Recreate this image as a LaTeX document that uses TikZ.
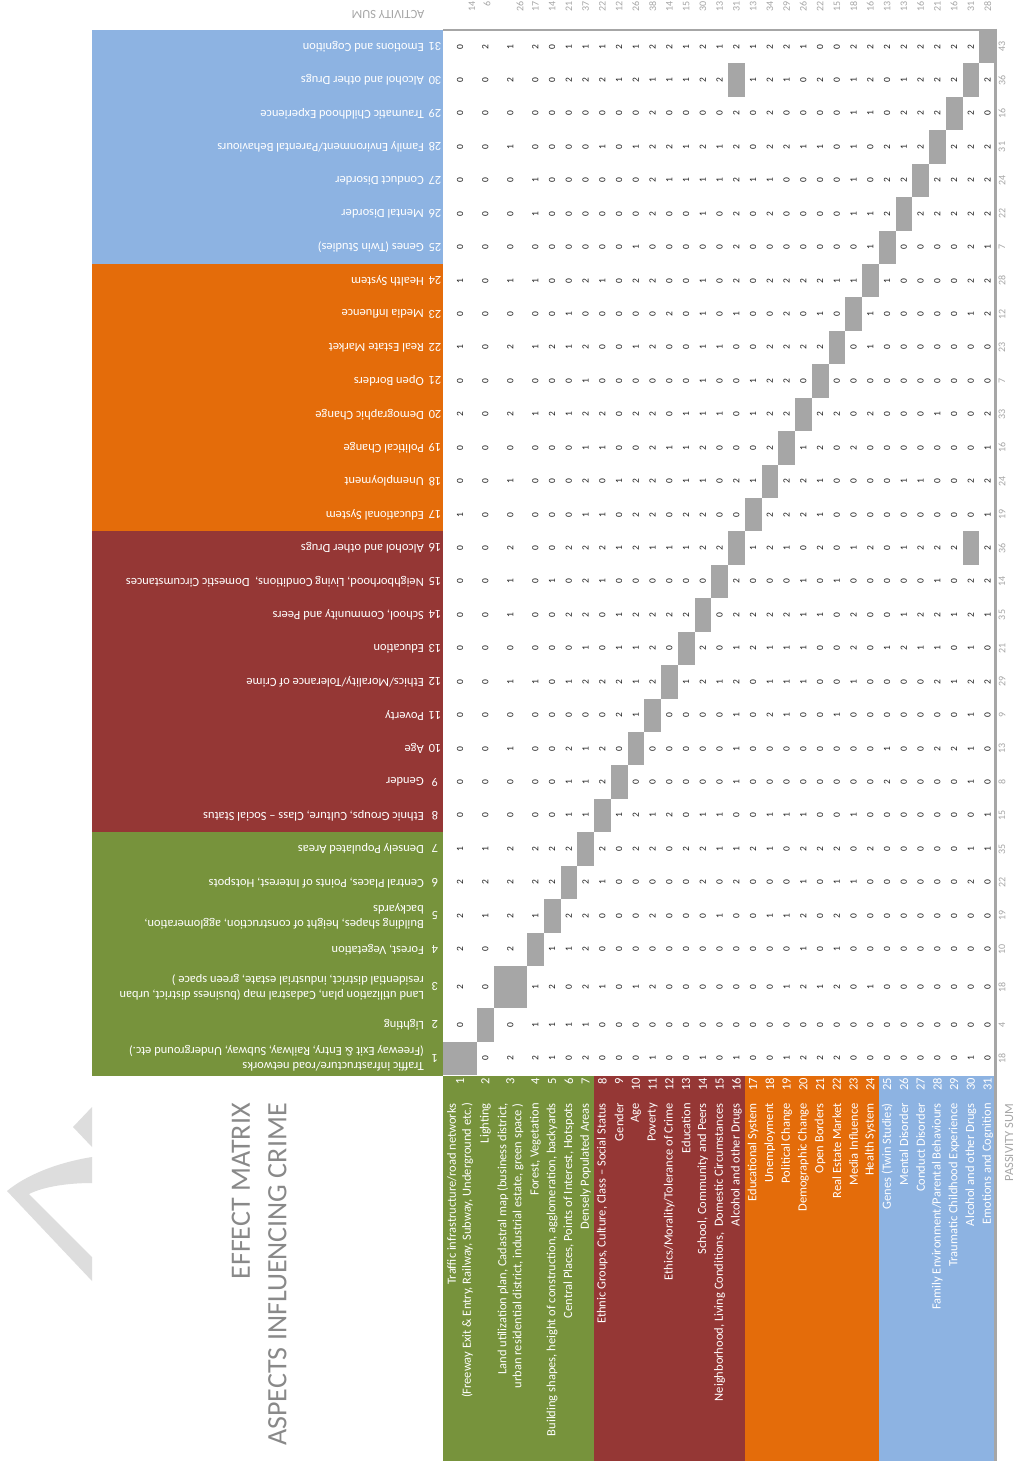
\documentclass[tikz,border=0pt]{standalone}
\usepackage{fontspec}
\setmainfont{Carlito}
\definecolor{grn}{HTML}{77933C}
\definecolor{dred}{HTML}{953735}
\definecolor{orng}{HTML}{E46C0A}
\definecolor{lblue}{HTML}{8DB3E2}
\definecolor{cellgray}{HTML}{A6A6A6}
\definecolor{sumgray}{HTML}{A6A6A6}
\definecolor{titlegray}{HTML}{898989}
\definecolor{wmgray}{HTML}{DDDDDD}
\definecolor{digitc}{HTML}{202020}
\begin{document}
\begin{tikzpicture}[x=1pt,y=-1pt,
  declare function={
    cl(\xx)=(\xx==1)*443+(\xx==2)*477+(\xx==3)*493.5+(\xx>3)*(527+(\xx-4)*16.75);
    cr(\xx)=(\xx==1)*477+(\xx==2)*493.5+(\xx==3)*527+(\xx>3)*(527+(\xx-3)*16.75);
    cx(\xx)=(cl(\xx)+cr(\xx))/2;
    rt(\yy)=(\yy==1)*1042+(\yy==2)*1008+(\yy==3)*966+(\yy>3)*(966-(\yy-3)*33.43);
    rb(\yy)=(\yy==1)*1075+(\yy==2)*1042+(\yy==3)*1008+(\yy>3)*(966-(\yy-4)*33.43);
    ry(\yy)=(rt(\yy)+rb(\yy))/2;
    ax(\xx)=(\xx==1)*472+(\xx==2)*487+(\xx==3)*520+(\xx>3)*cx(\xx);
  },
  dig/.style={rotate=90, inner sep=0pt, text=digitc, font=\fontsize{9.5}{11}\selectfont},
  sumnum/.style={rotate=90, inner sep=0pt, text=sumgray, font=\fontsize{10}{12}\selectfont},
  botlab/.style={rotate=90, anchor=east, align=right, inner sep=0pt, text=white, font=\fontsize{12.5}{15}\selectfont},
  leftlab/.style={rotate=180, anchor=west, align=left, inner sep=0pt, text=white, font=\fontsize{12.5}{15}\selectfont},
  bandnum/.style={rotate=90, anchor=east, inner sep=0pt, text=white, font=\fontsize{12.5}{15}\selectfont},
  leftnum/.style={rotate=180, inner sep=0pt, text=white, font=\fontsize{12.5}{15}\selectfont},
  sumlabel/.style={inner sep=0pt, text=sumgray, font=\fontsize{12.5}{15}\selectfont},
  titletext/.style={rotate=90, anchor=east, inner sep=0pt, text=titlegray, font=\fontsize{28}{32}\selectfont}
]
\useasboundingbox (0,0) rectangle (1017,1461);
\fill[white] (0,0) rectangle (1017,1461);

% watermark fragment
\fill[wmgray] (92,1157) .. controls (55,1163) and (25,1176) .. (7,1191) -- (92,1281) -- (92,1257) -- (29,1194) .. controls (45,1186) and (70,1183) .. (92,1183) -- cycle;
\fill[wmgray] (92,1107) -- (73,1127) -- (92,1147) -- cycle;

% left bands
\fill[lblue] (92,30) rectangle (443,264);
\fill[orng] (92,264) rectangle (443,531.4);
\fill[dred] (92,531.4) rectangle (443,832.3);
\fill[grn] (92,832.3) rectangle (443,1076);

% bottom bands
\fill[grn] (443,1076) rectangle (594,1461);
\fill[dred] (594,1076) rectangle (744.75,1461);
\fill[orng] (744.75,1076) rectangle (878.75,1461);
\fill[lblue] (878.75,1076) rectangle (996,1461);

% matrix
\foreach \rr/\vals in {
 1/{9,0,2,2,1,0,2,0,0,0,1,0,0,1,0,1,0,0,1,2,2,2,0,0,0,0,0,0,0,1,0},
 2/{0,9,0,1,1,1,1,0,0,0,0,0,0,0,0,0,0,0,0,0,0,0,0,0,0,0,0,0,0,0,0},
 3/{2,0,9,1,2,0,2,1,0,1,2,0,0,0,0,0,0,0,1,2,1,2,0,1,0,0,0,0,0,0,0},
 4/{2,0,2,9,1,1,2,0,0,0,0,0,0,0,0,0,0,0,0,1,0,1,0,0,0,0,0,0,0,0,0},
 5/{2,1,2,1,9,2,2,0,0,0,2,0,0,0,1,0,0,1,1,2,0,2,0,0,0,0,0,0,0,0,0},
 6/{2,2,2,2,2,9,2,1,0,0,0,0,0,2,0,2,0,0,0,1,0,1,1,0,0,0,0,0,0,2,0},
 7/{1,1,2,2,2,2,9,2,0,2,2,0,2,2,1,1,2,1,0,2,2,2,0,2,0,0,0,0,0,1,1},
 8/{0,0,0,0,0,1,1,9,1,2,1,2,0,1,1,0,0,1,1,1,0,0,1,0,0,0,0,0,0,0,1},
 9/{0,0,0,0,0,1,1,2,9,0,0,0,0,0,0,1,0,0,0,0,0,0,0,0,2,0,0,0,0,1,0},
 10/{0,0,1,0,0,2,1,2,0,9,0,0,0,0,0,1,0,0,0,0,0,0,0,0,1,0,0,2,2,1,0},
 11/{0,0,0,0,0,0,0,0,2,1,9,0,0,0,0,1,0,2,1,0,0,1,0,0,0,0,0,0,0,1,0},
 12/{0,0,1,1,0,1,2,2,2,1,2,9,1,2,1,2,0,1,1,1,0,0,1,0,0,0,0,2,1,2,2},
 13/{0,0,0,0,0,0,1,0,1,1,2,0,9,2,0,1,2,1,1,1,0,0,2,0,1,2,1,1,0,1,0},
 14/{0,0,1,0,0,2,2,0,1,2,2,2,2,9,0,2,2,2,2,1,1,0,2,0,0,1,2,2,1,2,1},
 15/{0,0,1,0,1,0,2,1,0,0,0,0,0,0,9,2,0,0,0,1,0,1,0,0,0,0,0,1,0,2,2},
 16/{0,0,2,0,0,2,2,2,1,2,1,1,1,2,2,9,1,2,1,0,2,0,1,2,0,1,2,2,2,9,2},
 17/{1,0,0,0,0,0,1,1,0,2,2,0,2,2,0,0,9,2,2,2,1,0,0,0,0,0,0,0,0,0,1},
 18/{0,0,1,0,0,0,2,0,1,2,2,0,1,1,0,2,1,9,2,2,1,0,0,0,0,1,1,0,0,2,2},
 19/{0,0,0,0,0,0,1,1,0,0,2,1,1,2,0,0,0,2,9,1,2,0,2,0,0,0,0,0,0,0,1},
 20/{2,0,2,1,2,1,2,2,0,2,2,0,1,1,1,0,1,2,2,9,2,2,0,2,0,0,0,1,0,0,2},
 21/{0,0,0,0,0,0,1,0,0,0,0,0,0,1,0,0,1,2,2,0,9,0,0,0,0,0,0,0,0,0,0},
 22/{1,0,2,1,2,1,2,0,0,1,2,0,0,1,1,0,0,2,2,2,2,9,0,1,0,0,0,0,0,0,0},
 23/{0,0,0,0,0,1,0,0,0,0,0,2,0,1,0,1,0,0,2,0,1,0,9,1,0,0,0,0,0,1,2},
 24/{1,0,1,1,0,0,2,1,0,2,2,0,0,1,0,2,0,2,2,2,2,1,1,9,1,0,0,0,0,2,2},
 25/{0,0,0,0,0,0,0,0,0,1,0,0,0,0,0,2,0,0,0,0,0,0,0,1,9,0,0,0,0,2,1},
 26/{0,0,0,1,0,0,0,0,0,0,2,0,0,1,0,2,0,2,0,0,0,0,1,1,2,9,2,2,2,2,2},
 27/{0,0,0,1,0,0,0,0,0,0,2,1,1,1,1,2,1,1,0,0,0,0,1,0,2,2,9,2,2,2,2},
 28/{0,0,1,0,0,0,0,1,0,1,2,2,1,2,1,2,0,2,2,1,1,0,1,0,2,1,2,9,2,2,2},
 29/{0,0,0,0,0,0,0,0,0,0,2,0,0,0,0,2,0,2,0,0,0,0,1,1,0,2,2,2,9,2,0},
 30/{0,0,2,0,0,2,2,2,1,2,1,1,1,2,2,9,1,2,1,0,2,0,1,2,0,1,2,2,2,9,2},
 31/{0,2,1,2,0,1,1,1,2,1,2,2,1,2,1,2,1,2,2,1,0,0,2,2,2,2,2,2,2,2,9}} {
  \foreach \v [count=\cc] in \vals {
    \ifnum\v=9\relax
      \fill[cellgray] ({cl(\cc)},{rt(\rr)}) rectangle ({cr(\cc)},{rb(\rr)});
    \else
      \node[dig] (m-\rr-\cc) at ({cx(\cc)},{ry(\rr)}) {\v};
    \fi
  }
}

% borders
\draw[cellgray, line width=2.5pt] (443,30) -- (997,30);
\draw[cellgray, line width=3pt] (995,29) -- (995,1461);

% activity sums
\foreach \v [count=\cc] in {14,6,26,17,14,21,37,22,12,26,38,14,15,30,13,31,13,34,29,26,22,15,18,16,13,13,16,21,16,31,28}
  \node[sumnum, anchor=east] (as\cc) at ({ax(\cc)},1.5) {\v};
% passivity sums
\foreach \v [count=\rr] in {18,4,18,10,19,22,35,15,8,13,9,29,21,35,14,36,19,24,16,33,7,23,12,28,7,22,24,31,16,36,43}
  \node[sumnum] (ps\rr) at (1002,{ry(\rr)}) {\v};

\node[sumlabel, rotate=180] (actlab) at (388,15) {ACTIVITY SUM};
\node[sumlabel, rotate=90, anchor=east] (paslab) at (1009,1104) {PASSIVITY SUM};

% numbers
\foreach \cc in {1,...,31} \node[bandnum] (bn\cc) at ({cx(\cc)},1078) {\cc};
\foreach \rr in {1,...,31} \node[leftnum] (ln\rr) at (435,{ry(\rr)}) {\rr};

% bottom labels
\node[botlab] (b1) at ({cx(1)},1103) {Traffic infrastructure/road networks\\(Freeway Exit \& Entry, Railway, Subway, Underground etc.)};
\node[botlab] (b2) at ({cx(2)},1103) {Lighting};
\node[botlab] (b3) at ({cx(3)},1103) {Land utilization plan, Cadastral map (business district,\\urban residential district, industrial estate, green space )};
\node[botlab] (b4) at ({cx(4)},1103) {Forest, Vegetation};
\node[botlab] (b5) at ({cx(5)},1103) {Building shapes, height of construction, agglomeration, backyards};
\node[botlab] (b6) at ({cx(6)},1103) {Central Places, Points of Interest, Hotspots};
\node[botlab] (b7) at ({cx(7)},1103) {Densely Populated Areas};
\node[botlab] (b8) at ({cx(8)},1103) {Ethnic Groups, Culture, Class \textendash{} Social Status};
\node[botlab] (b9) at ({cx(9)},1103) {Gender};
\node[botlab] (b10) at ({cx(10)},1103) {Age};
\node[botlab] (b11) at ({cx(11)},1103) {Poverty};
\node[botlab] (b12) at ({cx(12)},1103) {Ethics/Morality/Tolerance of Crime};
\node[botlab] (b13) at ({cx(13)},1103) {Education};
\node[botlab] (b14) at ({cx(14)},1103) {School, Community and Peers};
\node[botlab] (b15) at ({cx(15)},1103) {Neighborhood, Living Conditions,\ \ Domestic Circumstances};
\node[botlab] (b16) at ({cx(16)},1103) {Alcohol and other Drugs};
\node[botlab] (b17) at ({cx(17)},1103) {Educational System};
\node[botlab] (b18) at ({cx(18)},1103) {Unemployment};
\node[botlab] (b19) at ({cx(19)},1103) {Political Change};
\node[botlab] (b20) at ({cx(20)},1103) {Demographic Change};
\node[botlab] (b21) at ({cx(21)},1103) {Open Borders};
\node[botlab] (b22) at ({cx(22)},1103) {Real Estate Market};
\node[botlab] (b23) at ({cx(23)},1103) {Media Influence};
\node[botlab] (b24) at ({cx(24)},1103) {Health System};
\node[botlab] (b25) at ({cx(25)},1103) {Genes (Twin Studies)};
\node[botlab] (b26) at ({cx(26)},1103) {Mental Disorder};
\node[botlab] (b27) at ({cx(27)},1103) {Conduct Disorder};
\node[botlab] (b28) at ({cx(28)},1103) {Family Environment/Parental Behaviours};
\node[botlab] (b29) at ({cx(29)},1103) {Traumatic Childhood Experience};
\node[botlab] (b30) at ({cx(30)},1103) {Alcohol and other Drugs};
\node[botlab] (b31) at ({cx(31)},1103) {Emotions and Cognition};

% left labels
\node[leftlab] (l1) at (424,{ry(1)}) {Traffic infrastructure/road networks\\(Freeway Exit \& Entry, Railway, Subway, Underground etc.)};
\node[leftlab] (l2) at (424,{ry(2)}) {Lighting};
\node[leftlab] (l3) at (424,{ry(3)}) {Land utilization plan, Cadastral map (business district, urban\\residential district, industrial estate, green space )};
\node[leftlab] (l4) at (424,{ry(4)}) {Forest, Vegetation};
\node[leftlab] (l5) at (424,{ry(5)}) {Building shapes, height of construction, agglomeration,\\backyards};
\node[leftlab] (l6) at (424,{ry(6)}) {Central Places, Points of Interest, Hotspots};
\node[leftlab] (l7) at (424,{ry(7)}) {Densely Populated Areas};
\node[leftlab] (l8) at (424,{ry(8)}) {Ethnic Groups, Culture, Class \textendash{} Social Status};
\node[leftlab] (l9) at (424,{ry(9)}) {Gender};
\node[leftlab] (l10) at (424,{ry(10)}) {Age};
\node[leftlab] (l11) at (424,{ry(11)}) {Poverty};
\node[leftlab] (l12) at (424,{ry(12)}) {Ethics/Morality/Tolerance of Crime};
\node[leftlab] (l13) at (424,{ry(13)}) {Education};
\node[leftlab] (l14) at (424,{ry(14)}) {School, Community and Peers};
\node[leftlab] (l15) at (424,{ry(15)}) {Neighborhood, Living Conditions,\ \ Domestic Circumstances};
\node[leftlab] (l16) at (424,{ry(16)}) {Alcohol and other Drugs};
\node[leftlab] (l17) at (424,{ry(17)}) {Educational System};
\node[leftlab] (l18) at (424,{ry(18)}) {Unemployment};
\node[leftlab] (l19) at (424,{ry(19)}) {Political Change};
\node[leftlab] (l20) at (424,{ry(20)}) {Demographic Change};
\node[leftlab] (l21) at (424,{ry(21)}) {Open Borders};
\node[leftlab] (l22) at (424,{ry(22)}) {Real Estate Market};
\node[leftlab] (l23) at (424,{ry(23)}) {Media Influence};
\node[leftlab] (l24) at (424,{ry(24)}) {Health System};
\node[leftlab] (l25) at (424,{ry(25)}) {Genes (Twin Studies)};
\node[leftlab] (l26) at (424,{ry(26)}) {Mental Disorder};
\node[leftlab] (l27) at (424,{ry(27)}) {Conduct Disorder};
\node[leftlab] (l28) at (424,{ry(28)}) {Family Environment/Parental Behaviours};
\node[leftlab] (l29) at (424,{ry(29)}) {Traumatic Childhood Experience};
\node[leftlab] (l30) at (424,{ry(30)}) {Alcohol and other Drugs};
\node[leftlab] (l31) at (424,{ry(31)}) {Emotions and Cognition};

% title
\node[titletext] (t1) at (241,1103) {EFFECT MATRIX};
\node[titletext] (t2) at (277.5,1103) {ASPECTS INFLUENCING CRIME};
\end{tikzpicture}
\end{document}
